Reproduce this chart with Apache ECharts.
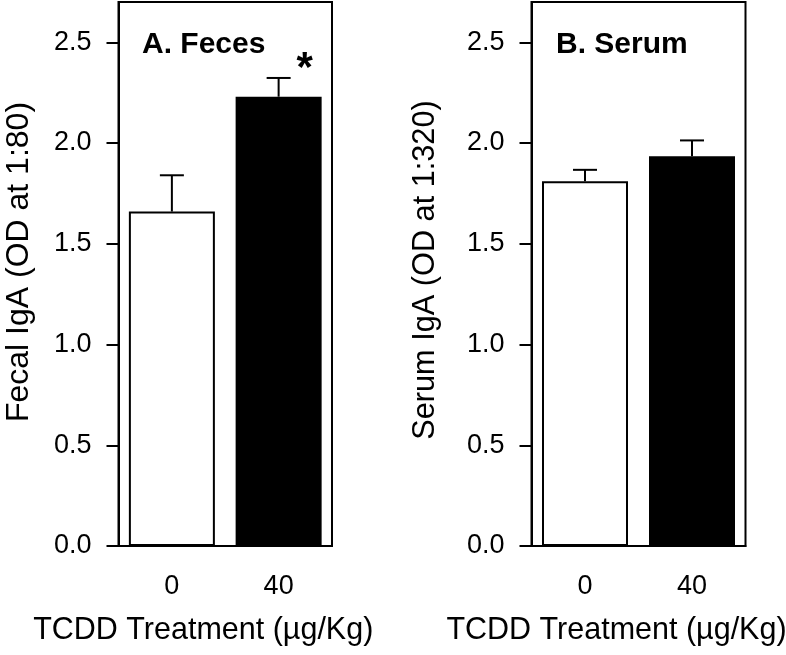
<!DOCTYPE html>
<html>
<head>
<meta charset="utf-8">
<script src="https://cdn.jsdelivr.net/npm/echarts@6/dist/echarts.min.js"></script>
<style>
  html, body { margin: 0; padding: 0; background: #fff; }
  #main { width: 786px; height: 655px; }
</style>
</head>
<body>
<div id="main"></div>
<script>
// doses (x categories)
var doses = ['0', '40'];
// A. feces, OD at 1:80
var fecesMean = [1.66, 2.23];
var fecesSem = [0.18, 0.093];
var fecesSig = ['', '*'];
// B. serum, OD at 1:320
var serumMean = [1.81, 1.935];
var serumSem = [0.057, 0.078];
var serumSig = ['', ''];

var barColors = ['#ffffff', '#000000'];
var font = 'Liberation Sans, Arial, sans-serif';

var chart = echarts.init(document.getElementById('main'));

function barData(means) {
	var out = [];
	for (var i = 0; i < means.length; i++) {
		out.push({
			value: means[i],
			itemStyle: { color: barColors[i], borderColor: '#000', borderWidth: 2 }
		});
	}
	return out;
}

function errData(means, sems, sig) {
	var out = [];
	for (var i = 0; i < means.length; i++) {
		out.push([i, means[i], sems[i], sig[i]]);
	}
	return out;
}

// upper error bar + significance mark
function renderErr(params, api) {
	var base = api.coord([api.value(0), api.value(1)]);
	var top = api.coord([api.value(0), api.value(1) + api.value(2)]);
	var style = { stroke: '#000', lineWidth: 2 };
	var kids = [
		{ type: 'line', shape: { x1: base[0], y1: base[1], x2: top[0], y2: top[1] }, style: style },
		{ type: 'line', shape: { x1: top[0] - 12, y1: top[1], x2: top[0] + 12, y2: top[1] }, style: style }
	];
	var mark = api.value(3);
	if (mark) {
		kids.push({
			type: 'text',
			style: {
				text: mark, x: top[0] + 26, y: top[1] - 9,
				fill: '#000', font: 'bold 42px ' + font,
				align: 'center', verticalAlign: 'middle'
			}
		});
	}
	return { type: 'group', children: kids };
}

function xAxisFor(idx) {
	return {
		type: 'category',
		gridIndex: idx,
		data: doses,
		name: 'TCDD Treatment (µg/Kg)',
		nameLocation: 'middle',
		nameGap: 69,
		nameTextStyle: { fontSize: 30.5, color: '#000', fontFamily: font, padding: [0, 44, 0, 0] },
		axisLine: { lineStyle: { color: '#000', width: 2 } },
		axisTick: { alignWithLabel: true, length: 12, lineStyle: { width: 2 } },
		axisLabel: { fontSize: 27, color: '#000', fontFamily: font, margin: 27 },
		splitLine: { show: false }
	};
}

function yAxisFor(idx, name, size, gap, shift) {
	return {
		type: 'value',
		gridIndex: idx,
		min: 0,
		max: 2.7,
		interval: 0.5,
		name: name,
		nameLocation: 'middle',
		nameGap: gap,
		nameTextStyle: { fontSize: size, color: '#000', fontFamily: font, padding: [0, 0, 0, shift] },
		axisLine: { show: true, lineStyle: { color: '#000', width: 2 } },
		axisTick: { show: true, length: 12, lineStyle: { width: 2 } },
		axisLabel: {
			fontSize: 27, color: '#000', fontFamily: font, margin: 27,
			showMaxLabel: false,
			formatter: function (v) { return v.toFixed(1); }
		},
		splitLine: { show: false }
	};
}

option = {
	backgroundColor: '#fff',
	animation: false,
	title: [{
		text: 'A. Feces', left: 137, top: 25,
		textStyle: { fontSize: 30, fontWeight: 'bold', color: '#000', fontFamily: font }
	}, {
		text: 'B. Serum', left: 551, top: 25,
		textStyle: { fontSize: 30, fontWeight: 'bold', color: '#000', fontFamily: font }
	}],
	grid: [
		{ left: 118.5, top: 2, width: 213.5, height: 544, show: true, borderColor: '#000', borderWidth: 2, outerBoundsMode: 'none' },
		{ left: 531.5, top: 2, width: 214, height: 544, show: true, borderColor: '#000', borderWidth: 2, outerBoundsMode: 'none' }
	],
	xAxis: [xAxisFor(0), xAxisFor(1)],
	yAxis: [
		yAxisFor(0, 'Fecal IgA (OD at 1:80)', 32, 83, 24),
		yAxisFor(1, 'Serum IgA (OD at 1:320)', 30.7, 90, 8)
	],
	series: [{
		type: 'bar', xAxisIndex: 0, yAxisIndex: 0,
		barWidth: 86, data: barData(fecesMean)
	}, {
		type: 'custom', xAxisIndex: 0, yAxisIndex: 0,
		renderItem: renderErr, data: errData(fecesMean, fecesSem, fecesSig), z: 5
	}, {
		type: 'bar', xAxisIndex: 1, yAxisIndex: 1,
		barWidth: 86, data: barData(serumMean)
	}, {
		type: 'custom', xAxisIndex: 1, yAxisIndex: 1,
		renderItem: renderErr, data: errData(serumMean, serumSem, serumSig), z: 5
	}]
};

chart.setOption(option);
</script>
</body>
</html>
